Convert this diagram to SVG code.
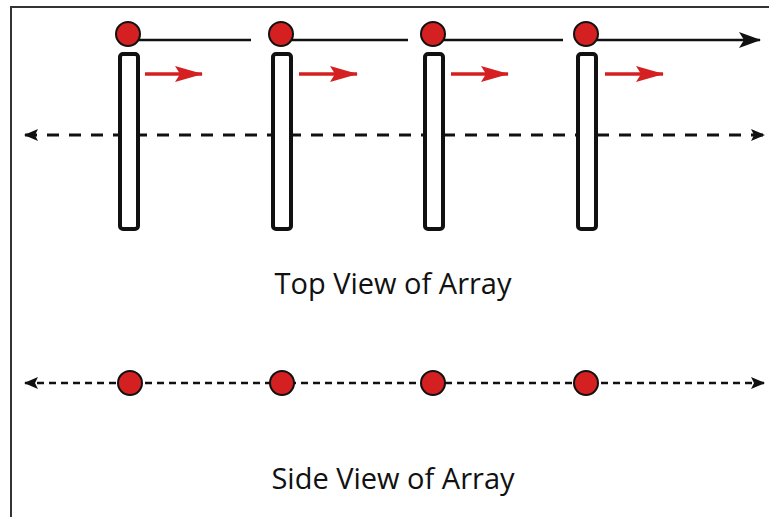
<svg xmlns="http://www.w3.org/2000/svg" width="769" height="517" viewBox="0 0 769 517">
  <style>
    .frame { fill: #ffffff; stroke: #333333; stroke-width: 2; }
    .bar { fill: #ffffff; stroke: #111111; stroke-width: 4; }
    .dot { fill: #d42020; stroke: #111111; stroke-width: 2; }
    .wire { stroke: #111111; stroke-width: 2.5; fill: none; }
    .dash1 { stroke: #111111; stroke-width: 3; fill: none; stroke-dasharray: 12 10; }
    .dash2 { stroke: #111111; stroke-width: 2.5; fill: none; stroke-dasharray: 7 5; }
    .push { stroke: #d42020; stroke-width: 3.5; fill: none; }
    .label { font-family: "Open Sans", "Liberation Sans", sans-serif; font-size: 29px; fill: #111111; text-anchor: middle; }
  </style>
  <defs>
    <marker id="blk" viewBox="0 0 14 12" refX="13" refY="6" markerWidth="14" markerHeight="12" markerUnits="userSpaceOnUse" orient="auto-start-reverse">
      <path d="M0,0 L14,6 L0,12 L3,6 Z" fill="#111111"/>
    </marker>
    <marker id="blkBig" viewBox="0 0 22 16" refX="21" refY="8" markerWidth="22" markerHeight="16" markerUnits="userSpaceOnUse" orient="auto">
      <path d="M0,0 L22,8 L0,16 L5,8 Z" fill="#111111"/>
    </marker>
    <marker id="red" viewBox="0 0 28 16" refX="27" refY="8" markerWidth="28" markerHeight="16" markerUnits="userSpaceOnUse" orient="auto">
      <path d="M0,0 L28,8 L0,16 L5,8 Z" fill="#d42020"/>
    </marker>
  </defs>

  <rect class="frame" x="11" y="7" width="770" height="520"/>

  <g id="connectors">
    <!-- top view: wire linking the elements -->
    <line class="wire" x1="128" y1="40" x2="251" y2="40"/>
    <line class="wire" x1="281" y1="40" x2="408" y2="40"/>
    <line class="wire" x1="433" y1="40" x2="563" y2="40"/>
    <line class="wire" x1="586" y1="40" x2="760" y2="40" marker-end="url(#blkBig)"/>
    <!-- top view: axis -->
    <line class="dash1" x1="25" y1="135" x2="764" y2="135" marker-start="url(#blk)" marker-end="url(#blk)"/>
    <!-- top view: red direction arrows -->
    <line class="push" x1="145" y1="74" x2="202" y2="74" marker-end="url(#red)"/>
    <line class="push" x1="299" y1="74" x2="357" y2="74" marker-end="url(#red)"/>
    <line class="push" x1="451" y1="74" x2="508" y2="74" marker-end="url(#red)"/>
    <line class="push" x1="605" y1="74" x2="663" y2="74" marker-end="url(#red)"/>
    <!-- side view: axis -->
    <line class="dash2" x1="25" y1="383" x2="764" y2="383" marker-start="url(#blk)" marker-end="url(#blk)"/>
  </g>

  <g id="element-1">
    <rect class="bar" x="120" y="54" width="18" height="175" rx="3"/>
    <circle class="dot" cx="128" cy="34" r="12"/>
  </g>
  <g id="element-2">
    <rect class="bar" x="273" y="54" width="18" height="175" rx="3"/>
    <circle class="dot" cx="281" cy="34" r="12"/>
  </g>
  <g id="element-3">
    <rect class="bar" x="425" y="54" width="18" height="175" rx="3"/>
    <circle class="dot" cx="433" cy="34" r="12"/>
  </g>
  <g id="element-4">
    <rect class="bar" x="578" y="54" width="18" height="175" rx="3"/>
    <circle class="dot" cx="586" cy="34" r="12"/>
  </g>

  <g id="side-1"><circle class="dot" cx="130" cy="383" r="12"/></g>
  <g id="side-2"><circle class="dot" cx="282" cy="383" r="12"/></g>
  <g id="side-3"><circle class="dot" cx="433" cy="383" r="12"/></g>
  <g id="side-4"><circle class="dot" cx="586" cy="383" r="12"/></g>

  <text class="label" x="393" y="294">Top View of Array</text>
  <text class="label" x="393" y="489">Side View of Array</text>
</svg>
